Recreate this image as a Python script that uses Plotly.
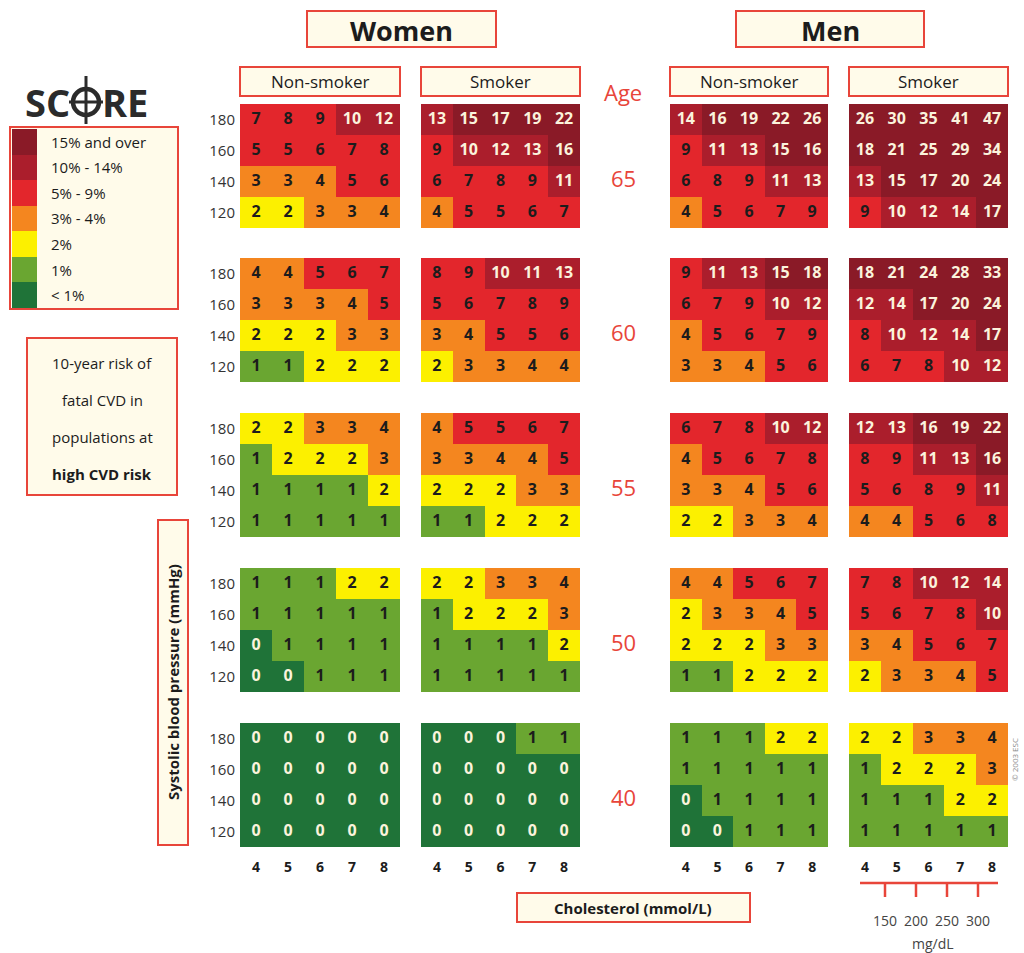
import plotly.graph_objects as go

# ---------------- data ----------------
CHOL = [4, 5, 6, 7, 8]                 # cholesterol mmol/L (columns)
SBP = [180, 160, 140, 120]             # systolic blood pressure (rows, top->bottom)
AGES = ["65", "60", "55", "50", "40"]  # age groups (panel rows, top->bottom)
MGDL = ["150", "200", "250", "300"]

# each list: one 4x5 grid per age group (65, 60, 55, 50, 40); rows SBP 180..120
women_nonsmoker = [
    [[7, 8, 9, 10, 12], [5, 5, 6, 7, 8], [3, 3, 4, 5, 6], [2, 2, 3, 3, 4]],
    [[4, 4, 5, 6, 7], [3, 3, 3, 4, 5], [2, 2, 2, 3, 3], [1, 1, 2, 2, 2]],
    [[2, 2, 3, 3, 4], [1, 2, 2, 2, 3], [1, 1, 1, 1, 2], [1, 1, 1, 1, 1]],
    [[1, 1, 1, 2, 2], [1, 1, 1, 1, 1], [0, 1, 1, 1, 1], [0, 0, 1, 1, 1]],
    [[0, 0, 0, 0, 0], [0, 0, 0, 0, 0], [0, 0, 0, 0, 0], [0, 0, 0, 0, 0]],
]
women_smoker = [
    [[13, 15, 17, 19, 22], [9, 10, 12, 13, 16], [6, 7, 8, 9, 11], [4, 5, 5, 6, 7]],
    [[8, 9, 10, 11, 13], [5, 6, 7, 8, 9], [3, 4, 5, 5, 6], [2, 3, 3, 4, 4]],
    [[4, 5, 5, 6, 7], [3, 3, 4, 4, 5], [2, 2, 2, 3, 3], [1, 1, 2, 2, 2]],
    [[2, 2, 3, 3, 4], [1, 2, 2, 2, 3], [1, 1, 1, 1, 2], [1, 1, 1, 1, 1]],
    [[0, 0, 0, 1, 1], [0, 0, 0, 0, 0], [0, 0, 0, 0, 0], [0, 0, 0, 0, 0]],
]
men_nonsmoker = [
    [[14, 16, 19, 22, 26], [9, 11, 13, 15, 16], [6, 8, 9, 11, 13], [4, 5, 6, 7, 9]],
    [[9, 11, 13, 15, 18], [6, 7, 9, 10, 12], [4, 5, 6, 7, 9], [3, 3, 4, 5, 6]],
    [[6, 7, 8, 10, 12], [4, 5, 6, 7, 8], [3, 3, 4, 5, 6], [2, 2, 3, 3, 4]],
    [[4, 4, 5, 6, 7], [2, 3, 3, 4, 5], [2, 2, 2, 3, 3], [1, 1, 2, 2, 2]],
    [[1, 1, 1, 2, 2], [1, 1, 1, 1, 1], [0, 1, 1, 1, 1], [0, 0, 1, 1, 1]],
]
men_smoker = [
    [[26, 30, 35, 41, 47], [18, 21, 25, 29, 34], [13, 15, 17, 20, 24], [9, 10, 12, 14, 17]],
    [[18, 21, 24, 28, 33], [12, 14, 17, 20, 24], [8, 10, 12, 14, 17], [6, 7, 8, 10, 12]],
    [[12, 13, 16, 19, 22], [8, 9, 11, 13, 16], [5, 6, 8, 9, 11], [4, 4, 5, 6, 8]],
    [[7, 8, 10, 12, 14], [5, 6, 7, 8, 10], [3, 4, 5, 6, 7], [2, 3, 3, 4, 5]],
    [[2, 2, 3, 3, 4], [1, 2, 2, 2, 3], [1, 1, 1, 2, 2], [1, 1, 1, 1, 1]],
]
PANELS = [women_nonsmoker, women_smoker, men_nonsmoker, men_smoker]

RISK_LABELS = ["15% and over", "10% - 14%", "5% - 9%", "3% - 4%", "2%", "1%", "< 1%"]
RISK_BINS = [6, 5, 4, 3, 2, 1, 0]

# ---------------- style ----------------
COLORS = ["#1f7338", "#6aa631", "#fcf000", "#f4861f", "#e3262c", "#ab1e2c", "#8a1a27"]
RED = "#e8453a"
CREAM = "#fffbea"
DARK = "#1c1c1c"
LIGHT_TXT = "#fbf3dc"
FONT = "Open Sans"
W, H = 1024, 953


def cat(v):
    if v <= 0:
        return 0
    if v == 1:
        return 1
    if v == 2:
        return 2
    if v <= 4:
        return 3
    if v <= 9:
        return 4
    if v <= 14:
        return 5
    return 6


colorscale = []
for i, c in enumerate(COLORS):
    colorscale.append([i / 7, c])
    colorscale.append([(i + 1) / 7, c])


def px(x):
    return x / W


def py(y):
    return 1 - y / H


COL_X = [(240, 400), (421, 580), (670, 828), (849, 1008)]
ROW_Y = [(104, 228), (258, 382), (413, 537), (568, 692), (723, 847)]

fig = go.Figure()
layout_axes = {}
n = 0
for r in range(5):
    for c in range(4):
        n += 1
        sfx = "" if n == 1 else str(n)
        grid = PANELS[c][r]
        z = [[cat(v) for v in row] for row in grid]
        fig.add_trace(go.Heatmap(
            x=CHOL, y=SBP, z=z, zmin=-0.5, zmax=6.5, colorscale=colorscale,
            showscale=False, hoverinfo="skip", xaxis="x" + sfx, yaxis="y" + sfx,
        ))
        tx, ty, tt, tc = [], [], [], []
        for i, s in enumerate(SBP):
            for j, ch in enumerate(CHOL):
                v = grid[i][j]
                tx.append(ch)
                ty.append(s)
                tt.append(str(v))
                tc.append(LIGHT_TXT if (v == 0 or v >= 10) else DARK)
        fig.add_trace(go.Scatter(
            x=tx, y=ty, text=tt, mode="text", textposition="middle center",
            textfont=dict(family=FONT, size=16, color=tc, weight="bold"),
            hoverinfo="skip", showlegend=False, xaxis="x" + sfx, yaxis="y" + sfx,
        ))
        x0, x1 = COL_X[c]
        y0, y1 = ROW_Y[r]
        layout_axes["xaxis" + sfx] = dict(
            domain=[px(x0), px(x1)], anchor="y" + sfx, range=[3.5, 8.5],
            showgrid=False, zeroline=False, showline=False, ticks="",
            tickvals=CHOL, showticklabels=(r == 4), fixedrange=True,
            tickfont=dict(family=FONT, size=14, color=DARK, weight="bold"),
            ticklabelstandoff=10,
        )
        layout_axes["yaxis" + sfx] = dict(
            domain=[py(y1), py(y0)], anchor="x" + sfx, range=[110, 190],
            showgrid=False, zeroline=False, showline=False, ticks="",
            tickvals=SBP, showticklabels=(c == 0), fixedrange=True,
            tickfont=dict(family=FONT, size=15, color="#333333"),
            ticklabelstandoff=4,
        )

# legend swatches as a heatmap
fig.add_trace(go.Heatmap(
    x=[0], y=list(range(7)), z=[[b] for b in RISK_BINS], zmin=-0.5, zmax=6.5,
    colorscale=colorscale, showscale=False, hoverinfo="skip",
    xaxis="x21", yaxis="y21",
))
layout_axes["xaxis21"] = dict(domain=[px(12), px(37)], anchor="y21", visible=False,
                              range=[-0.5, 0.5], fixedrange=True)
layout_axes["yaxis21"] = dict(domain=[py(308), py(129)], anchor="x21", visible=False,
                              range=[6.5, -0.5], fixedrange=True)

shapes = []
annots = []


def box(x0, y0, x1, y1, lw=2):
    shapes.append(dict(type="rect", xref="paper", yref="paper",
                       x0=px(x0), x1=px(x1), y0=py(y1), y1=py(y0),
                       fillcolor=CREAM, line=dict(color=RED, width=lw), layer="below"))


def text(x, y, t, size, color=DARK, weight="normal", xanchor="center", angle=0, family=FONT):
    annots.append(dict(x=px(x), y=py(y), xref="paper", yref="paper", text=t,
                       showarrow=False, xanchor=xanchor, yanchor="middle", textangle=angle,
                       font=dict(family=family, size=size, color=color, weight=weight)))


# headers
box(307, 11, 496, 47)
text(401, 30, "Women", 27, weight="bold")
box(736, 11, 924, 47)
text(830, 30, "Men", 27, weight="bold")
for (x0, x1), lab in zip(COL_X, ["Non-smoker", "Smoker", "Non-smoker", "Smoker"]):
    box(x0, 67, x1, 96)
    text((x0 + x1) / 2, 82, lab, 17)

# Age labels
text(623, 92, "Age", 22, color=RED)
for (y0, y1), a in zip(ROW_Y, AGES):
    text(623, (y0 + y1) / 2 + 12, a, 22, color=RED)

# legend box
shapes.append(dict(type="rect", xref="paper", yref="paper", x0=px(10), x1=px(178),
                   y0=py(309), y1=py(127), fillcolor=CREAM,
                   line=dict(color=RED, width=2), layer="below"))
for k, lab in enumerate(RISK_LABELS):
    text(49, 129 + (k + 0.5) * (179 / 7), lab, 15, xanchor="left")

# description box
box(27, 338, 177, 495)
for yy, t, wgt in [(363, "10-year risk of", "normal"), (400, "fatal CVD in", "normal"),
                   (437, "populations at", "normal"), (474, "high CVD risk", "bold")]:
    text(102, yy, t, 15, weight=wgt)

# SCORE logo
text(72, 102, "SC", 38, color="#2b2b2b", xanchor="right", weight="bold")
text(100, 102, "RE", 38, color="#2b2b2b", xanchor="left", weight="bold")
shapes.append(dict(type="circle", xref="paper", yref="paper", x0=px(73), x1=px(99),
                   y0=py(115), y1=py(89), line=dict(color="#2b2b2b", width=4.5)))
shapes.append(dict(type="line", xref="paper", yref="paper", x0=px(86), x1=px(86),
                   y0=py(124), y1=py(76), line=dict(color="#2b2b2b", width=3)))
shapes.append(dict(type="line", xref="paper", yref="paper", x0=px(69), x1=px(103),
                   y0=py(102), y1=py(102), line=dict(color="#2b2b2b", width=3)))

# y-axis title box
box(158, 520, 188, 845)
text(173, 682, "Systolic blood pressure (mmHg)", 15, weight="bold", angle=-90)

# x-axis title box
box(517, 893, 750, 922)
text(633, 908, "Cholesterol (mmol/L)", 15, weight="bold")

# mg/dL scale
shapes.append(dict(type="line", xref="paper", yref="paper", x0=px(860), x1=px(998),
                   y0=py(883), y1=py(883), line=dict(color=RED, width=2.5)))
for xx, lab in zip([885, 916, 947, 978], MGDL):
    shapes.append(dict(type="line", xref="paper", yref="paper", x0=px(xx), x1=px(xx),
                       y0=py(883), y1=py(897), line=dict(color=RED, width=2.5)))
    text(xx, 920, lab, 14, color="#444444")
text(933, 943, "mg/dL", 14, color="#444444")

# copyright
text(1014, 760, "© 2003 ESC", 8, color="#888888", angle=-90)

fig.update_layout(
    width=W, height=H, margin=dict(l=0, r=0, t=0, b=0),
    paper_bgcolor="white", plot_bgcolor="rgba(0,0,0,0)",
    shapes=shapes, annotations=annots, showlegend=False,
    font=dict(family=FONT), **layout_axes,
)

fig.write_html("out.html", config={"displayModeBar": False},
               post_script="document.body.style.margin='0';document.body.style.overflow='hidden';")
